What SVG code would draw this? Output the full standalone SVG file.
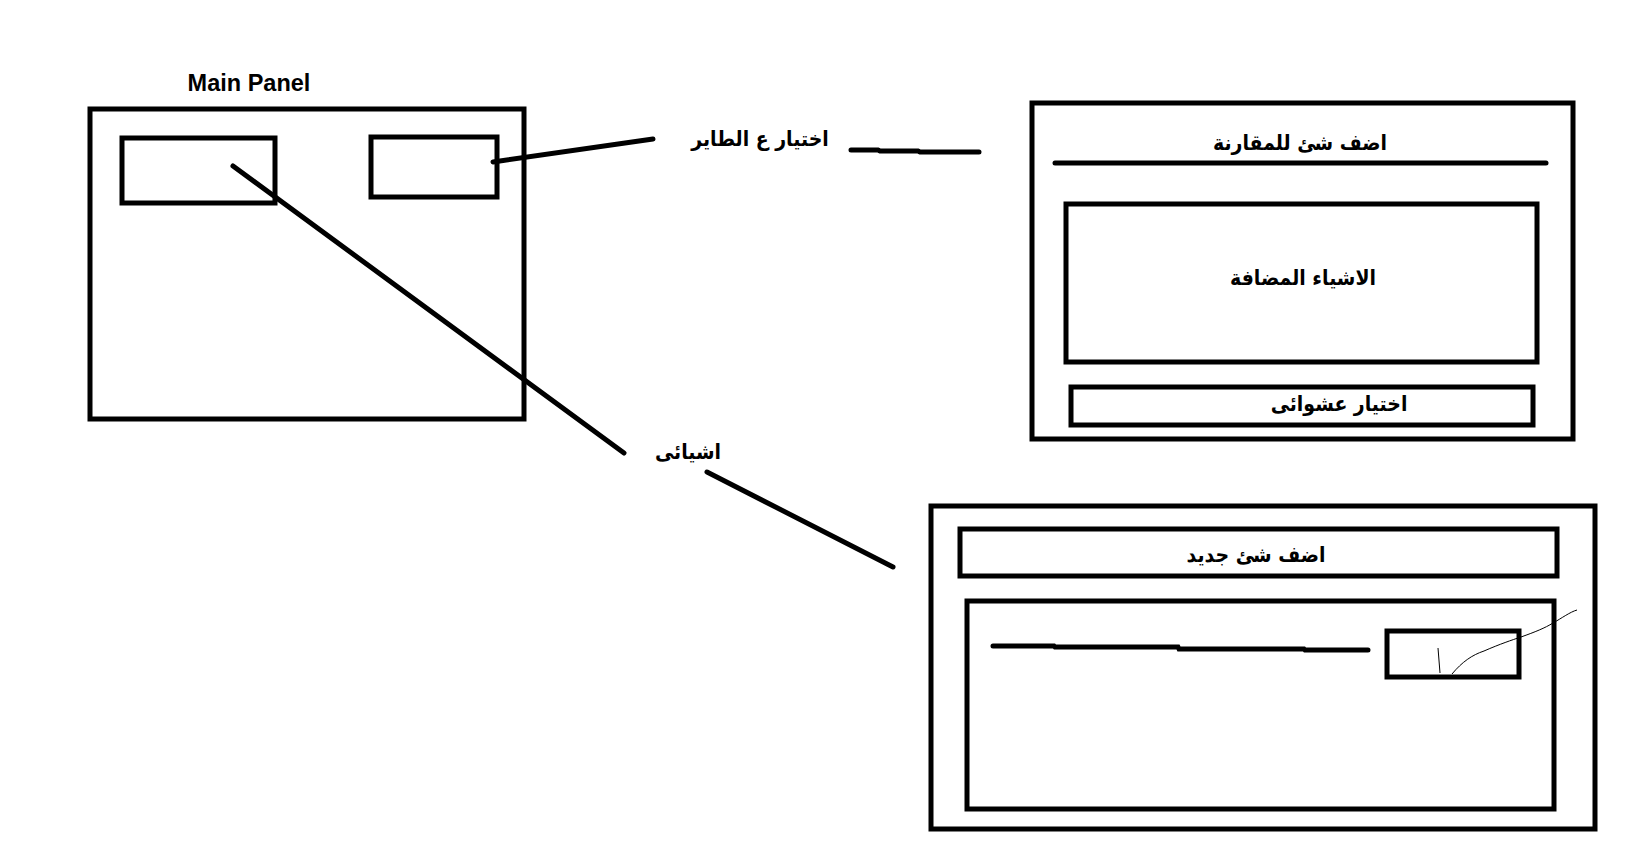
<svg xmlns="http://www.w3.org/2000/svg" width="1651" height="864" viewBox="0 0 1651 864">
<style>
.box{fill:none;stroke:#000;stroke-width:5}
.ln{fill:none;stroke:#000;stroke-width:5;stroke-linecap:round}
.thin{fill:none;stroke:#000;stroke-width:1}
.ar{font-family:"DejaVu Sans Condensed","DejaVu Sans",sans-serif;font-weight:bold;font-size:21px;text-anchor:middle;direction:rtl;fill:#000}
.en{font-family:"Liberation Sans",sans-serif;font-weight:bold;font-size:23.5px;text-anchor:middle;fill:#000}
</style>
<rect width="1651" height="864" fill="#fff"/>
<g id="main-panel">
<text class="en" x="249" y="91">Main Panel</text>
<rect class="box" x="90" y="109" width="434" height="310"/>
<rect class="box" x="122" y="138" width="153" height="65"/>
<rect class="box" x="371" y="137" width="126" height="60"/>
</g>
<g id="compare-panel">
<rect class="box" x="1032" y="103" width="541" height="336"/>
<text class="ar" x="1300" y="150">اضف شئ للمقارنة</text>
<line class="ln" x1="1055" y1="163" x2="1546" y2="163"/>
<rect class="box" x="1066" y="204" width="471" height="158"/>
<text class="ar" x="1303" y="285">الاشياء المضافة</text>
<rect class="box" x="1071" y="387" width="462" height="38"/>
<text class="ar" x="1339" y="411">اختيار عشوائى</text>
</g>
<g id="new-item-panel">
<rect class="box" x="931" y="506" width="664" height="323"/>
<rect class="box" x="960" y="529" width="597" height="47"/>
<text class="ar" x="1256" y="562">اضف شئ جديد</text>
<rect class="box" x="967" y="601" width="587" height="208"/>
<polyline class="ln" points="993,646 1054,646 1055,647 1178,647 1179,649 1304,649 1305,650 1368,650"/>
<rect class="box" x="1387" y="631" width="132" height="46"/>
<path class="thin" d="M1438,648 L1440,673"/>
<path class="thin" d="M1452,674 C1462,662 1472,655 1484,651 C1500,644 1512,640 1521,637 C1535,632 1545,628 1553,623 C1562,618 1570,612 1577,610"/>
</g>
<g id="labels">
<text class="ar" x="760" y="146">اختيار ع الطاير</text>
<text class="ar" x="688" y="459">اشيائى</text>
</g>
<g id="connectors">
<line class="ln" x1="493" y1="162" x2="653" y2="139"/>
<polyline class="ln" points="851,150 878,150 880,151 918,151 920,152 979,152"/>
<line class="ln" x1="233" y1="166" x2="624" y2="453"/>
<line class="ln" x1="707" y1="472" x2="893" y2="567"/>
</g>
</svg>
